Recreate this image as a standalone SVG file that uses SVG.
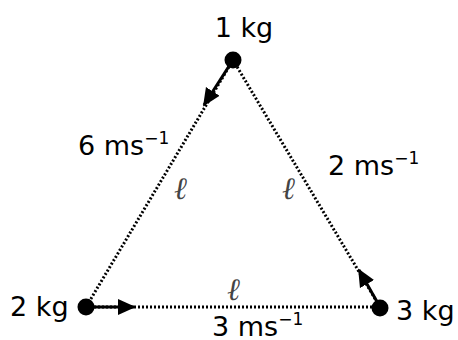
<svg xmlns="http://www.w3.org/2000/svg" width="458" height="340" viewBox="0 0 458 340">
<defs>
<style>
.t{font-family:"DejaVu Sans",Verdana,sans-serif;font-size:27px;fill:#000}
.l{font-family:"Liberation Serif","Noto Sans",serif;font-style:italic;font-size:31px;fill:#444}
.dot{stroke:#000;stroke-width:3;stroke-dasharray:2 2;fill:none}
.arr{stroke:#000;stroke-width:3;fill:none}
</style>
<marker id="ah" viewBox="0 0 10 10" refX="9" refY="5" markerWidth="6" markerHeight="6" markerUnits="strokeWidth" orient="auto">
<path d="M0,0.5 L10,5 L0,9.5 z" fill="#000"/>
</marker>
</defs>
<g id="connectors">
<line class="dot" x1="233" y1="60" x2="86" y2="307"/>
<line class="dot" x1="233" y1="60" x2="380" y2="307"/>
<line class="dot" x1="86" y1="307" x2="380" y2="307"/>
<line class="arr" x1="233" y1="60" x2="204" y2="105" marker-end="url(#ah)"/>
<line class="arr" x1="86" y1="307" x2="134" y2="307" marker-end="url(#ah)"/>
<line class="arr" x1="380" y1="307" x2="359" y2="270" marker-end="url(#ah)"/>
</g>
<g id="m1"><circle cx="233" cy="60" r="8.5"/><text class="t" x="244" y="37" text-anchor="middle">1 kg</text></g>
<g id="m2"><circle cx="86" cy="307" r="8.5"/><text class="t" x="10" y="316">2 kg</text></g>
<g id="m3"><circle cx="380" cy="308" r="8.5"/><text class="t" x="396" y="320">3 kg</text></g>
<g id="labels">
<text class="t" x="78" y="155">6 ms<tspan font-size="17" dy="-11">−1</tspan></text>
<text class="t" x="328" y="175">2 ms<tspan font-size="17" dy="-11">−1</tspan></text>
<text class="t" x="212" y="336">3 ms<tspan font-size="17" dy="-11">−1</tspan></text>
<text class="l" x="174" y="199">ℓ</text>
<text class="l" x="282" y="199">ℓ</text>
<text class="l" x="227" y="300">ℓ</text>
</g>
</svg>
